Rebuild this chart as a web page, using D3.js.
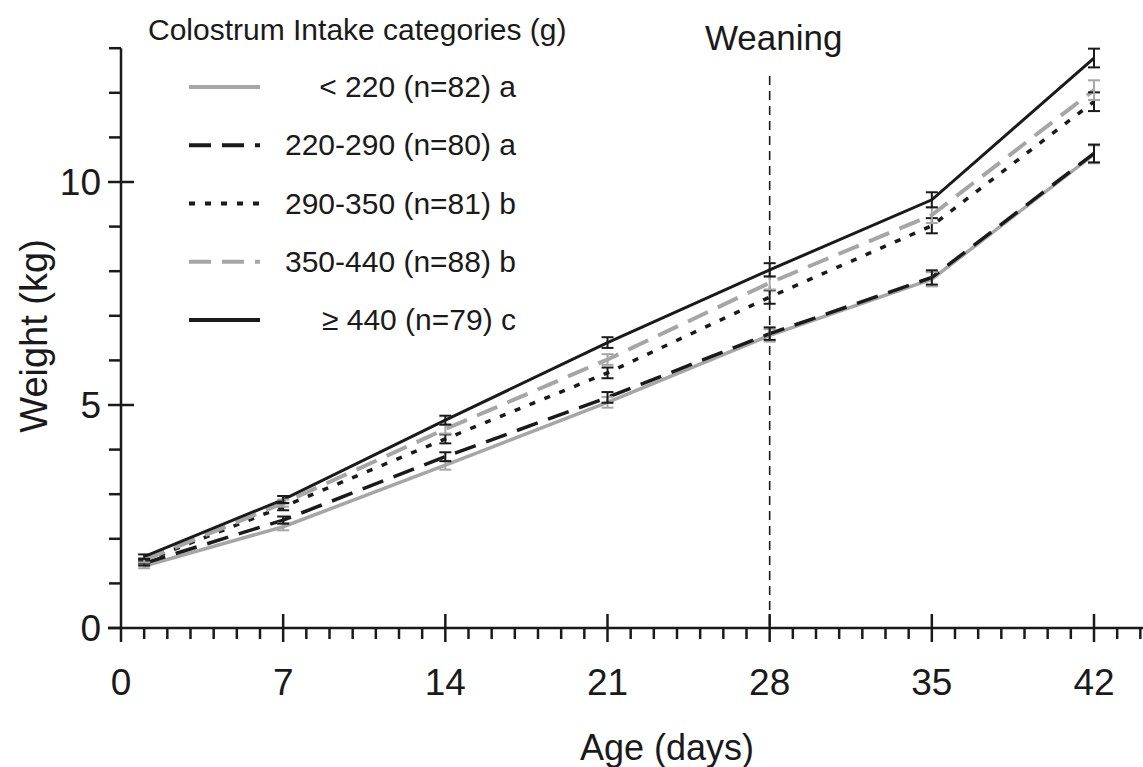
<!DOCTYPE html>
<html>
<head>
<meta charset="utf-8">
<script src="https://cdn.jsdelivr.net/npm/d3@7"></script>
<style>
  body { margin: 0; background: #fff; }
  svg { display: block; }
  text { font-family: "Liberation Sans", Arial, sans-serif; fill: #1a1a1a; }
</style>
</head>
<body>
<svg width="1143" height="767"></svg>
<script>
// data
const days = [1, 7, 14, 21, 28, 35, 42];
const categories = ["< 220 (n=82) a", "220-290 (n=80) a", "290-350 (n=81) b", "350-440 (n=88) b", "\u2265 440 (n=79) c"];
const wLow    = [1.39, 2.27, 3.65, 5.06, 6.56, 7.82, 10.62];
const wMid1   = [1.45, 2.42, 3.84, 5.17, 6.60, 7.86, 10.64];
const wMid2   = [1.50, 2.72, 4.24, 5.72, 7.42, 9.02, 11.80];
const wMid3   = [1.52, 2.80, 4.46, 6.02, 7.74, 9.26, 12.06];
const wHigh   = [1.60, 2.88, 4.66, 6.40, 8.03, 9.60, 12.78];
const seLow   = [0.05, 0.08, 0.10, 0.12, 0.14, 0.16, 0.20];
const seMid1  = [0.05, 0.08, 0.10, 0.12, 0.14, 0.16, 0.20];
const seMid2  = [0.05, 0.08, 0.10, 0.12, 0.15, 0.17, 0.21];
const seMid3  = [0.05, 0.08, 0.10, 0.12, 0.15, 0.18, 0.22];
const seHigh  = [0.05, 0.08, 0.10, 0.12, 0.15, 0.17, 0.21];
const xTicks = [0, 7, 14, 21, 28, 35, 42];
const yTicks = [0, 5, 10];
const weaningDay = 28;

const svg = d3.select("svg");

let x = d3.scaleLinear().domain([0, 42]).range([121, 1094]);
let y = d3.scaleLinear().domain([0, 10]).range([628, 182]);

const series = [
  { name: categories[0], w: wLow,  se: seLow,  color: "#a6a6a6", dash: null,    width: 3.5 },
  { name: categories[1], w: wMid1, se: seMid1, color: "#1a1a1a", dash: "22,11", width: 3.5 },
  { name: categories[2], w: wMid2, se: seMid2, color: "#1a1a1a", dash: "6,10",  width: 3.5 },
  { name: categories[3], w: wMid3, se: seMid3, color: "#a6a6a6", dash: "22,11", width: 4 },
  { name: categories[4], w: wHigh, se: seHigh, color: "#1a1a1a", dash: null,    width: 3 }
];

// axes -----------------------------------------------------------------
let axisG = svg.append("g").attr("stroke", "#1a1a1a").attr("stroke-width", 2.5);

// x axis line, it runs off the right edge
axisG.append("line")
  .attr("x1", x(0) - 13).attr("x2", 1143)
  .attr("y1", y(0)).attr("y2", y(0));

// y axis line up to 13 kg
axisG.append("line")
  .attr("x1", x(0)).attr("x2", x(0))
  .attr("y1", y(0)).attr("y2", y(13));

// minor day ticks (down only)
axisG.selectAll(".xminor")
  .data(d3.range(0, 45).filter(d => d % 7 !== 0))
  .enter().append("line")
  .attr("x1", d => x(d)).attr("x2", d => x(d))
  .attr("y1", y(0)).attr("y2", y(0) + 11);

// major week ticks (cross the axis)
axisG.selectAll(".xmajor")
  .data(xTicks)
  .enter().append("line")
  .attr("x1", d => x(d)).attr("x2", d => x(d))
  .attr("y1", d => d === 0 ? y(0) : y(0) - 14).attr("y2", y(0) + 14);

// y minor ticks (left only)
axisG.selectAll(".yminor")
  .data(d3.range(1, 14).filter(d => d % 5 !== 0))
  .enter().append("line")
  .attr("x1", x(0) - 12).attr("x2", x(0))
  .attr("y1", d => y(d)).attr("y2", d => y(d));

axisG.selectAll(".ymajor")
  .data(yTicks)
  .enter().append("line")
  .attr("x1", x(0) - 13).attr("x2", d => d === 0 ? x(0) : x(0) + 13)
  .attr("y1", d => y(d)).attr("y2", d => y(d));

svg.selectAll(".xlab")
  .data(xTicks)
  .enter().append("text")
  .attr("x", d => x(d)).attr("y", 695)
  .attr("text-anchor", "middle")
  .style("font-size", "37px")
  .text(d => d);

svg.selectAll(".ylab")
  .data(yTicks)
  .enter().append("text")
  .attr("x", 101).attr("y", d => y(d) + 13)
  .attr("text-anchor", "end")
  .style("font-size", "37px")
  .text(d => d);

svg.append("text")
  .attr("x", 667).attr("y", 760)
  .attr("text-anchor", "middle")
  .style("font-size", "36px")
  .text("Age (days)");

svg.append("text")
  .attr("transform", "translate(47,336) rotate(-90)")
  .attr("text-anchor", "middle")
  .style("font-size", "38px")
  .text("Weight (kg)");

// weaning marker
svg.append("line")
  .attr("x1", x(weaningDay)).attr("x2", x(weaningDay))
  .attr("y1", 76).attr("y2", y(0))
  .attr("stroke", "#1a1a1a").attr("stroke-width", 1.6)
  .attr("stroke-dasharray", "9,6");

svg.append("text")
  .attr("x", x(weaningDay) + 4).attr("y", 50)
  .attr("text-anchor", "middle")
  .style("font-size", "35px")
  .text("Weaning");

// lines ------------------------------------------------------------------
let line = d3.line()
  .x((d, i) => x(days[i]))
  .y(d => y(d));

svg.selectAll(".series")
  .data(series)
  .enter().append("path")
  .attr("class", "series")
  .attr("d", s => line(s.w))
  .attr("fill", "none")
  .attr("stroke", s => s.color)
  .attr("stroke-width", s => s.width)
  .attr("stroke-dasharray", s => s.dash);

// error bars
let eb = svg.selectAll(".eb")
  .data(series)
  .enter().append("g")
  .attr("stroke", s => s.color)
  .attr("stroke-width", 2)
  .selectAll("g")
  .data(s => s.w.map((v, i) => ({ day: days[i], v: v, se: s.se[i] })))
  .enter().append("g");

eb.append("line")
  .attr("x1", d => x(d.day)).attr("x2", d => x(d.day))
  .attr("y1", d => y(d.v - d.se)).attr("y2", d => y(d.v + d.se));
eb.append("line")
  .attr("x1", d => x(d.day) - 6).attr("x2", d => x(d.day) + 6)
  .attr("y1", d => y(d.v - d.se)).attr("y2", d => y(d.v - d.se));
eb.append("line")
  .attr("x1", d => x(d.day) - 6).attr("x2", d => x(d.day) + 6)
  .attr("y1", d => y(d.v + d.se)).attr("y2", d => y(d.v + d.se));

// legend -----------------------------------------------------------------
svg.append("text")
  .attr("x", 148).attr("y", 40)
  .style("font-size", "30px")
  .text("Colostrum Intake categories (g)");

let legendRow = d3.scaleLinear().domain([0, 4]).range([87, 320]);

let leg = svg.selectAll(".legend")
  .data(series)
  .enter().append("g")
  .attr("transform", (s, i) => `translate(0,${legendRow(i)})`);

leg.append("line")
  .attr("x1", 189).attr("x2", 260)
  .attr("stroke", s => s.color)
  .attr("stroke-width", 4)
  .attr("stroke-dasharray", s => s.dash);

leg.append("text")
  .attr("x", 516).attr("y", 10)
  .attr("text-anchor", "end")
  .style("font-size", "30px")
  .text(s => s.name);
</script>
</body>
</html>
